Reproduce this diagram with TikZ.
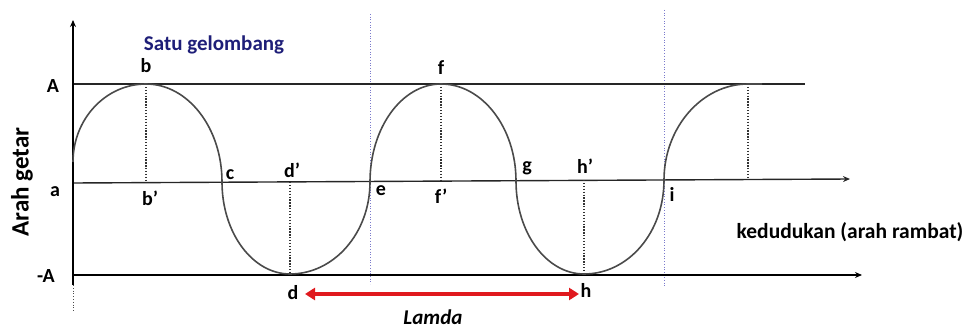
\documentclass[tikz,border=0pt]{standalone}
\usepackage{fontspec}
\setmainfont{Carlito}
\usetikzlibrary{arrows.meta}
\definecolor{navy}{HTML}{1E1E78}
\definecolor{gridblue}{HTML}{7A7ACC}
\definecolor{wave}{HTML}{4A4A4A}
\definecolor{lamred}{HTML}{E0191E}
\begin{document}
\begin{tikzpicture}[x=1pt,y=-1pt,
  lbl/.style={font=\fontsize{20}{20}\selectfont\bfseries, inner sep=0pt},
  axisline/.style={line width=2pt, black},
  refline/.style={line width=1.4pt, black!85},
  dropline/.style={line width=1.3pt, dash pattern=on 1.3pt off 1.6pt, black!80},
  bluedot/.style={line width=0.7pt, dotted, gridblue},
  tipA/.style={-{Stealth[length=7pt,width=6pt]}}
]
\useasboundingbox (0,0) rectangle (967,329);

% key coordinates
\coordinate (ytop) at (73,20);
\coordinate (ybot) at (73,285);
\coordinate (ydot) at (73,312);
\coordinate (Aleft) at (73,84);
\coordinate (Aright) at (805,84);
\coordinate (aleft) at (73,183);
\coordinate (aright) at (850,179);
\coordinate (mAleft) at (73,275);
\coordinate (mAright) at (862,275);
\coordinate (S0) at (73,162);
\coordinate (pb) at (146,84);
\coordinate (pbb) at (146,182);
\coordinate (pc) at (222,182);
\coordinate (pd) at (290,274);
\coordinate (pdd) at (290,182);
\coordinate (pe) at (370,182);
\coordinate (pf) at (441,84);
\coordinate (pff) at (441,181);
\coordinate (pg) at (516,181);
\coordinate (ph) at (584,274);
\coordinate (phh) at (584,180);
\coordinate (pi) at (664,180);
\coordinate (pp) at (748,84);
\coordinate (ppp) at (748,179);
\coordinate (pend) at (762,84);
\coordinate (v1t) at (370,14);
\coordinate (v1b) at (370,284);
\coordinate (v2t) at (664,10);
\coordinate (v2b) at (664,287);

% blue dotted verticals
\draw[bluedot] (v1t) -- (v1b);
\draw[bluedot] (v2t) -- (v2b);

% horizontal reference lines
\draw[refline] (Aleft) -- (Aright);
\draw[refline, tipA] (aleft) -- (aright);
\draw[axisline, tipA] (mAleft) -- (mAright);

% vertical axis
\draw[axisline, tipA] (ybot) -- (ytop);
\draw[line width=0.8pt, dotted, black!70] (ybot) -- (ydot);

% dotted drop lines
\draw[dropline] (pb) -- (pbb);
\draw[dropline] (pdd) -- (pd);
\draw[dropline] (pf) -- (pff);
\draw[dropline] (phh) -- (ph);
\draw[dropline] (pp) -- (ppp);

% wave
\draw[line width=1.6pt, wave]
  (S0) .. controls (73,119) and (105.7,84) .. (pb)
       .. controls (188,84) and (222,128) .. (pc)
       .. controls (222,232.8) and (252.5,274) .. (pd)
       .. controls (334.2,274) and (370,232.8) .. (pe)
       .. controls (370,127.9) and (401.8,84) .. (pf)
       .. controls (482.4,84) and (516,127.9) .. (pg)
       .. controls (516,232.8) and (546.5,274) .. (ph)
       .. controls (628.2,274) and (664,232.8) .. (pi)
       .. controls (664,127.9) and (701.6,84) .. (pp)
       -- (pend);

% labels
\node[lbl, text=navy, font=\fontsize{21}{21}\selectfont\bfseries] (satu) at (214,45) {Satu gelombang};
\node[lbl] (lb) at (146,66) {b};
\node[lbl] (lbb) at (150,198) {b'};
\node[lbl] (lc) at (230,175) {c};
\node[lbl] (ldd) at (292,170) {d'};
\node[lbl] (ld) at (293,293) {d};
\node[lbl] (le) at (381,191) {e};
\node[lbl] (lf) at (441,68) {f};
\node[lbl] (lff) at (441,196) {f'};
\node[lbl] (lg) at (527,168) {g};
\node[lbl] (lhh) at (585,166) {h'};
\node[lbl] (lh) at (586,290) {h};
\node[lbl] (li) at (672,194) {i};
\node[lbl] (lA) at (53,86) {A};
\node[lbl] (la) at (55,192) {a};
\node[lbl] (lmA) at (46,276) {-A};
\node[lbl, font=\fontsize{25}{25}\selectfont\bfseries, rotate=90] (arah) at (22,182) {Arah getar};
\node[lbl, font=\fontsize{21.5}{21.5}\selectfont\bfseries] (ked) at (850,232) {kedudukan (arah rambat)};
\node[lbl, font=\fontsize{21}{21}\selectfont\bfseries\itshape, anchor=base] (lamda) at (433,324) {Lamda};

% lambda arrow
\coordinate (r1) at (305,294);
\coordinate (r2) at (579,294);
\draw[lamred, line width=3.2pt, {Triangle[length=10pt,width=12pt]}-{Triangle[length=10pt,width=12pt]}] (r1) -- (r2);
\end{tikzpicture}
\end{document}
